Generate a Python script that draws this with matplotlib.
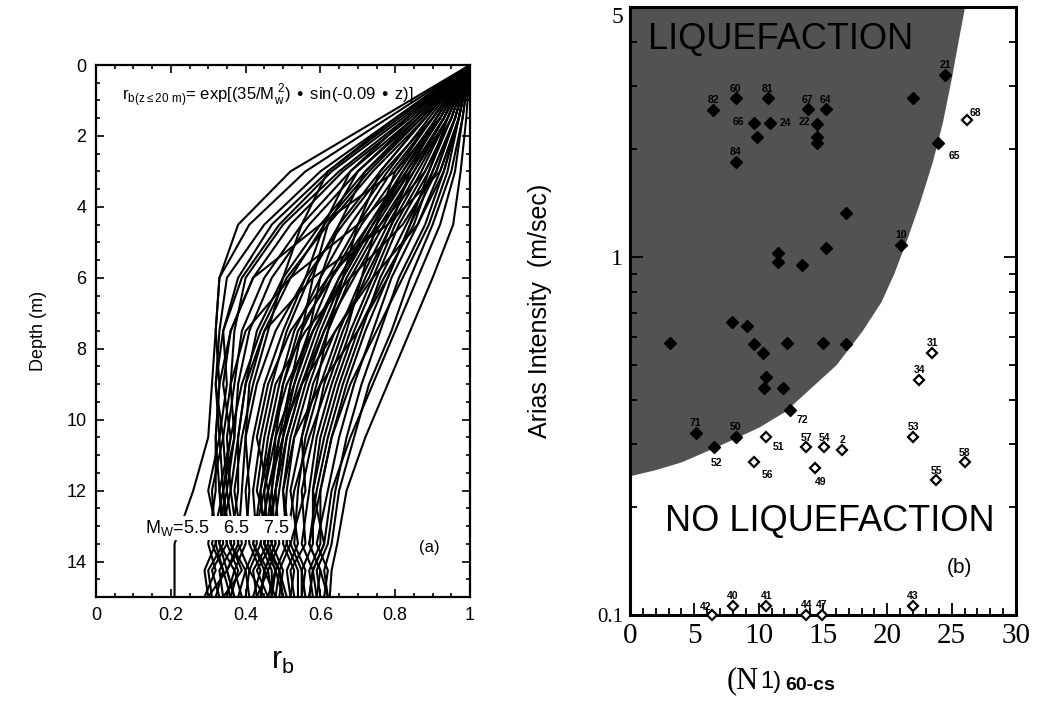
import matplotlib
matplotlib.use("Agg")
import matplotlib.pyplot as plt
from matplotlib.ticker import MultipleLocator, FixedLocator, LogLocator, NullFormatter

plt.rcParams['font.family'] = ['Liberation Sans', 'DejaVu Sans']

# ---- panel (a): r_b profiles ----
depth_nodes = [0, 1.5, 3, 4.5, 6, 7.5, 9, 10.5, 12, 13.5, 14.25, 15]
rb_profiles = [
    # low group (Mw ~ 5.5)
    [1.0, 0.76, 0.52, 0.38, 0.33, 0.32, 0.31, 0.30, 0.26, 0.21, 0.21, 0.21],
    [1.0, 0.78, 0.56, 0.41, 0.33, 0.32, 0.33, 0.32, 0.32, 0.30, 0.32, 0.29],
    [1.0, 0.80, 0.60, 0.45, 0.35, 0.33, 0.32, 0.34, 0.31, 0.32, 0.29, 0.30],
    [1.0, 0.82, 0.63, 0.49, 0.39, 0.34, 0.35, 0.33, 0.34, 0.31, 0.34, 0.32],
    [1.0, 0.84, 0.66, 0.52, 0.42, 0.36, 0.34, 0.36, 0.33, 0.35, 0.31, 0.33],
    [1.0, 0.85, 0.68, 0.55, 0.45, 0.39, 0.37, 0.35, 0.36, 0.33, 0.37, 0.35],
    [1.0, 0.86, 0.70, 0.57, 0.47, 0.41, 0.38, 0.37, 0.35, 0.37, 0.33, 0.34],
    [1.0, 0.87, 0.72, 0.60, 0.50, 0.43, 0.40, 0.38, 0.38, 0.36, 0.40, 0.38],
    [1.0, 0.92, 0.80, 0.60, 0.42, 0.36, 0.33, 0.32, 0.33, 0.34, 0.30, 0.31],
    [1.0, 0.81, 0.62, 0.47, 0.38, 0.34, 0.32, 0.33, 0.30, 0.33, 0.35, 0.30],
    [1.0, 0.88, 0.74, 0.62, 0.51, 0.44, 0.39, 0.36, 0.34, 0.35, 0.38, 0.36],
    [1.0, 0.80, 0.62, 0.55, 0.50, 0.46, 0.42, 0.39, 0.37, 0.39, 0.35, 0.37],
    [1.0, 0.87, 0.73, 0.61, 0.52, 0.45, 0.41, 0.40, 0.39, 0.38, 0.41, 0.40],
    [1.0, 0.90, 0.77, 0.66, 0.56, 0.48, 0.43, 0.40, 0.41, 0.40, 0.37, 0.39],
    [1.0, 0.83, 0.65, 0.50, 0.40, 0.37, 0.36, 0.34, 0.35, 0.32, 0.34, 0.36],
    [1.0, 0.93, 0.84, 0.70, 0.52, 0.40, 0.36, 0.37, 0.34, 0.36, 0.39, 0.34],
    [1.0, 0.97, 0.92, 0.78, 0.58, 0.45, 0.40, 0.38, 0.36, 0.38, 0.35, 0.37],
    # middle group (Mw ~ 6.5)
    [1.0, 0.88, 0.76, 0.65, 0.57, 0.51, 0.47, 0.44, 0.42, 0.43, 0.40, 0.41],
    [1.0, 0.89, 0.78, 0.68, 0.60, 0.53, 0.49, 0.46, 0.44, 0.42, 0.45, 0.44],
    [1.0, 0.90, 0.79, 0.70, 0.62, 0.55, 0.50, 0.47, 0.45, 0.46, 0.42, 0.43],
    [1.0, 0.91, 0.81, 0.71, 0.63, 0.57, 0.52, 0.49, 0.47, 0.45, 0.48, 0.46],
    [1.0, 0.95, 0.88, 0.76, 0.62, 0.52, 0.46, 0.43, 0.46, 0.44, 0.41, 0.45],
    [1.0, 0.92, 0.82, 0.73, 0.65, 0.58, 0.53, 0.50, 0.48, 0.49, 0.46, 0.47],
    [1.0, 0.92, 0.83, 0.74, 0.66, 0.60, 0.55, 0.51, 0.49, 0.47, 0.50, 0.49],
    [1.0, 0.83, 0.68, 0.61, 0.56, 0.50, 0.45, 0.42, 0.40, 0.41, 0.44, 0.42],
    [1.0, 0.91, 0.82, 0.74, 0.66, 0.58, 0.51, 0.47, 0.44, 0.45, 0.49, 0.48],
    [1.0, 0.93, 0.84, 0.75, 0.67, 0.61, 0.56, 0.52, 0.50, 0.51, 0.48, 0.50],
    [1.0, 0.96, 0.91, 0.82, 0.68, 0.56, 0.48, 0.45, 0.43, 0.47, 0.43, 0.46],
    [1.0, 0.93, 0.85, 0.76, 0.68, 0.62, 0.57, 0.53, 0.51, 0.50, 0.53, 0.52],
    [1.0, 0.92, 0.83, 0.73, 0.63, 0.54, 0.50, 0.48, 0.47, 0.48, 0.45, 0.44],
    [1.0, 0.93, 0.84, 0.74, 0.65, 0.59, 0.54, 0.50, 0.46, 0.44, 0.47, 0.47],
    [1.0, 0.86, 0.72, 0.65, 0.60, 0.57, 0.53, 0.48, 0.45, 0.42, 0.46, 0.43],
    [1.0, 0.94, 0.85, 0.77, 0.69, 0.61, 0.55, 0.51, 0.48, 0.46, 0.49, 0.51],
    [1.0, 0.91, 0.84, 0.79, 0.73, 0.64, 0.55, 0.49, 0.46, 0.48, 0.45, 0.48],
    [1.0, 0.85, 0.70, 0.62, 0.58, 0.55, 0.52, 0.50, 0.48, 0.45, 0.48, 0.47],
    # high group (Mw ~ 7.5)
    [1.0, 0.94, 0.86, 0.78, 0.71, 0.65, 0.60, 0.56, 0.54, 0.53, 0.56, 0.55],
    [1.0, 0.94, 0.87, 0.79, 0.72, 0.66, 0.61, 0.58, 0.55, 0.56, 0.52, 0.53],
    [1.0, 0.95, 0.88, 0.80, 0.74, 0.68, 0.63, 0.59, 0.57, 0.55, 0.58, 0.57],
    [1.0, 0.95, 0.89, 0.81, 0.75, 0.69, 0.64, 0.60, 0.58, 0.58, 0.55, 0.56],
    [1.0, 0.96, 0.90, 0.83, 0.76, 0.71, 0.66, 0.62, 0.59, 0.57, 0.60, 0.59],
    [1.0, 0.96, 0.91, 0.84, 0.78, 0.72, 0.67, 0.63, 0.60, 0.60, 0.57, 0.58],
    [1.0, 0.97, 0.92, 0.86, 0.79, 0.74, 0.69, 0.65, 0.62, 0.59, 0.62, 0.61],
    [1.0, 0.97, 0.93, 0.88, 0.81, 0.76, 0.71, 0.67, 0.64, 0.62, 0.59, 0.60],
    [1.0, 0.98, 0.95, 0.90, 0.84, 0.79, 0.73, 0.69, 0.65, 0.63, 0.61, 0.62],
    [1.0, 0.99, 0.975, 0.955, 0.90, 0.84, 0.78, 0.72, 0.67, 0.645, 0.63, 0.625],
    [1.0, 0.97, 0.93, 0.86, 0.74, 0.64, 0.58, 0.55, 0.52, 0.54, 0.51, 0.52],
    [1.0, 0.90, 0.80, 0.75, 0.71, 0.67, 0.62, 0.57, 0.53, 0.51, 0.54, 0.54],
    [1.0, 0.96, 0.90, 0.85, 0.77, 0.70, 0.65, 0.61, 0.58, 0.61, 0.58, 0.57],
    [1.0, 0.88, 0.76, 0.70, 0.66, 0.62, 0.59, 0.55, 0.56, 0.52, 0.55, 0.55],
    [1.0, 0.97, 0.94, 0.89, 0.82, 0.75, 0.68, 0.63, 0.60, 0.57, 0.60, 0.62],
    [1.0, 0.98, 0.96, 0.92, 0.86, 0.80, 0.74, 0.68, 0.63, 0.61, 0.58, 0.59],
    [1.0, 0.94, 0.89, 0.84, 0.78, 0.70, 0.60, 0.53, 0.50, 0.52, 0.49, 0.50],
]

# ---- panel (b): Arias intensity vs (N1)60-cs ----
liq_n = [6.45, 8.2, 10.7, 13.8, 15.2, 24.5, 22.0, 23.9, 9.6, 10.9, 14.5, 9.9, 14.5,
         14.5, 8.2, 16.8, 21.1, 15.2, 11.5, 11.5, 13.4, 7.9, 9.1, 3.1, 9.6, 10.3,
         12.2, 15.0, 16.8, 10.6, 10.4, 11.9, 12.4, 5.1, 8.2, 6.5]
liq_ia = [2.58, 2.78, 2.78, 2.59, 2.59, 3.23, 2.78, 2.08, 2.37, 2.37, 2.35, 2.17, 2.17,
          2.08, 1.85, 1.33, 1.08, 1.06, 1.03, 0.97, 0.95, 0.66, 0.64, 0.575, 0.57, 0.54,
          0.575, 0.575, 0.57, 0.463, 0.43, 0.43, 0.374, 0.323, 0.314, 0.294]
liq_id = ['82', '60', '81', '67', '64', '21', '', '65', '66', '24', '22', '', '',
          '', '84', '', '10', '', '', '', '', '', '', '', '', '',
          '', '', '', '', '', '', '72', '71', '50', '52']

noliq_n = [10.6, 13.7, 15.1, 16.5, 9.6, 14.4, 23.5, 22.5, 22.0, 26.0, 23.8, 26.2,
           6.4, 8.0, 10.6, 13.7, 14.9, 22.0]
noliq_ia = [0.314, 0.294, 0.294, 0.289, 0.267, 0.258, 0.54, 0.454, 0.314, 0.267, 0.238, 2.42,
            0.1, 0.106, 0.106, 0.1, 0.1, 0.106]
noliq_id = ['51', '57', '54', '2', '56', '49', '31', '34', '53', '58', '55', '68',
            '42', '40', '41', '44', '47', '43']

# boundary of the liquefaction zone
bound_n = [0, 2, 4, 6, 8, 10, 12, 14, 16, 18, 19.5, 20.5, 21.5, 22.5, 23.5, 24.3, 25.0, 25.6, 26.0]
bound_ia = [0.245, 0.255, 0.268, 0.288, 0.31, 0.335, 0.37, 0.43, 0.50, 0.62, 0.75, 0.90,
            1.12, 1.42, 1.85, 2.4, 3.2, 4.2, 5.0]

# label offsets (points) where the id is not placed above the marker
lab_off = {'51': (9, -7), '56': (10, -9), '49': (4, -10), '72': (9, -7), '52': (2, -11),
           '65': (12, -9), '68': (6, 5), '42': (-5, 6), '24': (11, 0), '22': (-9, 2),
           '66': (-11, 1)}

fig = plt.figure(figsize=(10.41, 7.03), dpi=100)

# ================= (a) =================
ax1 = fig.add_axes([96 / 1041, 1 - 597 / 703, 374 / 1041, 532 / 703])
for prof in rb_profiles:
    ax1.plot(prof, depth_nodes, color='black', lw=1.5)
ax1.set_xlim(0, 1)
ax1.set_ylim(15, 0)
ax1.xaxis.set_major_locator(MultipleLocator(0.2))
ax1.xaxis.set_minor_locator(MultipleLocator(0.05))
ax1.yaxis.set_major_locator(MultipleLocator(2))
ax1.yaxis.set_minor_locator(MultipleLocator(0.5))
ax1.xaxis.set_major_formatter(plt.FuncFormatter(lambda v, p: '%g' % v))
ax1.tick_params(which='both', direction='in', top=True, right=True, labelsize=13, width=1.2)
ax1.tick_params(which='major', length=6, pad=7)
ax1.tick_params(which='minor', length=3)
for s in ax1.spines.values():
    s.set_linewidth(1.6)
ax1.set_ylabel('Depth (m)', fontsize=13, labelpad=14)
ax1.set_xlabel('r$_\\mathregular{b}$', fontsize=22, labelpad=16)

ax1.text(0.07, 0.85, r'r$_{\mathregular{b(z\leq20\ m)}}$= exp[(35/M$_\mathregular{w}^{\ \mathregular{2}}$) $\bullet$ sin(-0.09 $\bullet$ z)]',
         fontsize=12, va='center', ha='left')
ax1.text(0.13, 13.05, 'M$_\\mathregular{W}$=5.5   6.5   7.5', fontsize=13, va='center', ha='left',
         zorder=5, bbox=dict(facecolor='white', edgecolor='none', pad=1.5))
ax1.text(0.89, 13.6, '(a)', fontsize=12, ha='center', va='center')

# ================= (b) =================
ax2 = fig.add_axes([630 / 1041, 1 - 615 / 703, 386 / 1041, 608 / 703])
ax2.set_yscale('log')
ax2.set_xlim(0, 30)
ax2.set_ylim(0.1, 5)
ax2.fill_betweenx(bound_ia, 0, bound_n, color='#525252', lw=0, zorder=1)

ax2.plot(liq_n, liq_ia, 'D', ms=6.5, color='black', zorder=4, clip_on=False)
ax2.plot(noliq_n, noliq_ia, 'D', ms=5.2, mfc='white', mec='black', mew=1.6, zorder=4, clip_on=False)
for n, ia, lab in list(zip(liq_n, liq_ia, liq_id)) + list(zip(noliq_n, noliq_ia, noliq_id)):
    if not lab:
        continue
    off = lab_off.get(lab, (0, 7))
    ax2.annotate(lab, (n, ia), xytext=off, textcoords='offset points', ha='center',
                 va='center', fontsize=7.5, fontweight='bold', zorder=5, annotation_clip=False)

ax2.text(1.4, 4.06, 'LIQUEFACTION', fontsize=26, ha='left', va='center', color='black', zorder=3)
ax2.text(15.5, 0.182, 'NO LIQUEFACTION', fontsize=26, ha='center', va='center', zorder=3)
ax2.text(25.6, 0.136, '(b)', fontsize=15, ha='center', va='center')

ax2.xaxis.set_major_locator(MultipleLocator(5))
ax2.xaxis.set_minor_locator(MultipleLocator(1))
ax2.yaxis.set_major_locator(FixedLocator([0.1, 1, 5]))
ax2.yaxis.set_minor_locator(LogLocator(base=10, subs=range(2, 10)))
ax2.yaxis.set_minor_formatter(NullFormatter())
ax2.set_yticklabels(['0.1', '1', '5'])
ax2.tick_params(which='both', direction='in', right=True, top=False, width=1.3)
ax2.tick_params(which='major', length=9)
ax2.tick_params(which='minor', length=5)
ax2.tick_params(axis='x', labelsize=21, pad=6)
ax2.tick_params(axis='y', labelsize=17, pad=5)
for lab in ax2.get_xticklabels() + ax2.get_yticklabels():
    lab.set_fontfamily('Liberation Serif')
ax2.get_yticklabels()[0].set_fontsize(15)
ax2.get_yticklabels()[2].set_verticalalignment('top')
for s in ax2.spines.values():
    s.set_linewidth(2.2)

fig.text(540 / 1041, 1 - 311 / 703, 'Arias Intensity  (m/sec)', rotation=90,
         fontsize=18, ha='center', va='center')
fig.text(727 / 1041, 1 - 688 / 703, '(N', fontsize=22, ha='left', va='baseline',
         fontfamily='Liberation Serif')
fig.text(760 / 1041, 1 - 688 / 703, '1)', fontsize=17, ha='left', va='baseline')
fig.text(785 / 1041, 1 - 690 / 703, '60-cs', fontsize=14, fontweight='bold', ha='left', va='baseline')

fig.savefig('out.png', dpi=100)
